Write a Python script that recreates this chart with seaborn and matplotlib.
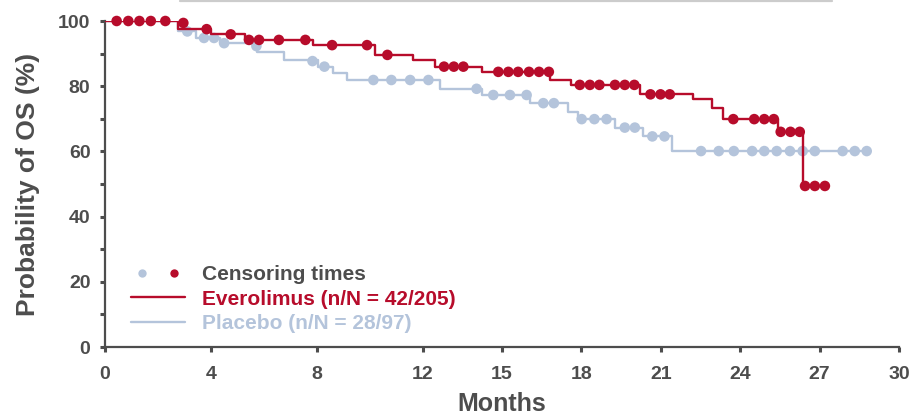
import matplotlib
matplotlib.use("Agg")
import matplotlib.pyplot as plt
from matplotlib.lines import Line2D
from matplotlib.legend_handler import HandlerTuple
import seaborn as sns
import pandas as pd

# ---------------- data ----------------
evr_step_times = [2.77, 4.0, 5.29, 7.86, 10.22, 11.65, 12.47, 14.23, 16.81, 17.59,
                  20.23, 22.23, 22.92, 23.34, 25.44, 26.36]
evr_levels = [97.5, 95.9, 94.2, 92.6, 89.6, 88.0, 86.0, 84.4, 81.9, 80.4,
              77.5, 76.0, 73.2, 69.9, 66.0, 49.4]
evr_end = 27.2

pbo_step_times = [2.76, 3.45, 4.34, 5.73, 6.77, 8.05, 8.6, 9.13, 12.66, 14.23,
                  16.06, 17.50, 17.88, 19.27, 20.34, 21.42]
pbo_levels = [97.0, 94.8, 93.2, 90.6, 88.0, 86.0, 83.9, 81.9, 79.2, 77.3,
              74.8, 72.2, 69.9, 67.3, 64.6, 60.1]
pbo_end = 28.78

evr_cens_x = [0.44, 0.88, 1.30, 1.73, 2.28, 2.96, 3.84, 4.75, 5.44, 5.82, 6.57, 7.57,
              8.58, 9.90, 10.67, 12.81, 13.18, 13.54, 14.86, 15.24, 15.61, 16.02, 16.40,
              16.77, 17.94, 18.32, 18.68, 19.27, 19.64, 20.00, 20.61, 20.99, 21.34,
              23.74, 24.53, 24.91, 25.27, 25.53, 25.90, 26.25, 26.45, 26.82, 27.20]
evr_cens_y = [100, 100, 100, 100, 100, 99.4, 97.5, 95.9, 94.2, 94.2, 94.2, 94.2,
              92.6, 92.6, 89.6, 86.0, 86.0, 86.0, 84.4, 84.4, 84.4, 84.4, 84.4,
              84.4, 80.4, 80.4, 80.4, 80.4, 80.4, 80.4, 77.5, 77.5, 77.5,
              69.9, 69.9, 69.9, 69.9, 66.0, 66.0, 66.0, 49.4, 49.4, 49.4]

pbo_cens_x = [3.11, 3.74, 4.12, 4.50, 5.72, 7.84, 8.29, 10.14, 10.82, 11.53, 12.22,
              14.04, 14.67, 15.30, 15.93, 16.56, 16.96, 18.01, 18.49, 18.95, 19.64,
              20.02, 20.68, 21.14, 22.52, 23.19, 23.76, 24.45, 24.91, 25.38, 25.88,
              26.36, 26.82, 27.87, 28.33, 28.78]
pbo_cens_y = [96.8, 94.8, 94.8, 93.2, 92.3, 87.7, 86.0, 81.9, 81.9, 81.9, 81.9,
              79.2, 77.3, 77.3, 77.3, 74.8, 74.8, 69.9, 69.9, 69.9, 67.3,
              67.3, 64.6, 64.6, 60.1, 60.1, 60.1, 60.1, 60.1, 60.1, 60.1,
              60.1, 60.1, 60.1, 60.1, 60.1]

x_ticks = [0, 4, 8, 12, 15, 18, 21, 24, 27, 30]
y_ticks = [0, 20, 40, 60, 80, 100]
y_minor = [10, 30, 50, 70, 90]

labels = ["Censoring times", "Everolimus (n/N = 42/205)", "Placebo (n/N = 28/97)"]
x_label = "Months"
y_label = "Probability of OS (%)"

# ---------------- style ----------------
RED = "#B70C2B"
BLUE = "#B4C4DB"
DARK = "#4D4D4D"

sns.set_theme(style="ticks")
plt.rcParams["font.family"] = ["Liberation Sans", "DejaVu Sans"]
plt.rcParams["font.weight"] = "bold"


def curve(times, levels, end):
    xs = [0.0] + list(times) + [end]
    ys = [100.0] + list(levels) + [levels[-1]]
    return pd.DataFrame({"x": xs, "y": ys})


evr_df = curve(evr_step_times, evr_levels, evr_end)
pbo_df = curve(pbo_step_times, pbo_levels, pbo_end)

fig = plt.figure(figsize=(9.13, 4.20), dpi=100)
ax = fig.add_axes([105 / 913, 1 - 347 / 420, 794 / 913, 326 / 420])

sns.lineplot(data=pbo_df, x="x", y="y", ax=ax, color=BLUE, lw=1.7,
             drawstyle="steps-post", estimator=None, sort=False, zorder=2)
sns.scatterplot(x=pbo_cens_x, y=pbo_cens_y, ax=ax, color=BLUE, s=58,
                edgecolor="none", zorder=3, clip_on=False)
sns.lineplot(data=evr_df, x="x", y="y", ax=ax, color=RED, lw=1.7,
             drawstyle="steps-post", estimator=None, sort=False, zorder=4)
sns.scatterplot(x=evr_cens_x, y=evr_cens_y, ax=ax, color=RED, s=58,
                edgecolor="none", zorder=5, clip_on=False)

ax.set_xlim(0, 30)
ax.set_ylim(0, 100)
ax.set_xticks(x_ticks)
ax.set_xticklabels([str(t) for t in x_ticks])
ax.set_yticks(y_ticks)
ax.set_yticks(y_minor, minor=True)
ax.set_yticklabels([str(t) for t in y_ticks])

for side in ["top", "right"]:
    ax.spines[side].set_visible(False)
for side in ["left", "bottom"]:
    ax.spines[side].set_color(DARK)
    ax.spines[side].set_linewidth(1.6)

ax.tick_params(axis="both", which="both", direction="out", length=3.5, width=2.2,
               color=DARK, labelcolor=DARK, labelsize=14)
ax.tick_params(axis="x", pad=10)
ax.tick_params(axis="y", pad=7)
for lab in ax.get_xticklabels() + ax.get_yticklabels():
    lab.set_fontweight("bold")

ax.set_xlabel(x_label, fontsize=18, fontweight="bold", color=DARK, labelpad=7)
ax.set_ylabel(y_label, fontsize=19, fontweight="bold", color=DARK, labelpad=13)

# legend
h_cens = (Line2D([], [], ls="", marker="o", color=BLUE, markersize=6, markeredgewidth=0),
          Line2D([], [], ls="", marker="o", color=RED, markersize=6, markeredgewidth=0))
h_evr = Line2D([], [], color=RED, lw=1.7)
h_pbo = Line2D([], [], color=BLUE, lw=1.7)
leg = ax.legend([h_cens, h_evr, h_pbo], labels, loc="lower left",
                bbox_to_anchor=((131 - 105) / 794, (347 - 333) / 326),
                frameon=False, borderpad=0, borderaxespad=0,
                handlelength=2.6, handletextpad=0.8, labelspacing=0.26,
                prop={"size": 15, "weight": "bold"},
                handler_map={tuple: HandlerTuple(ndivide=None, pad=0.4)})
for txt, col in zip(leg.get_texts(), [DARK, RED, BLUE]):
    txt.set_color(col)

# thin grey rule at the top edge of the picture
fig.add_artist(Line2D([180 / 913, 832 / 913], [1 - 0.8 / 420, 1 - 0.8 / 420],
                      color="#CCCCCC", lw=1.6))

fig.savefig("out.png", dpi=100)
